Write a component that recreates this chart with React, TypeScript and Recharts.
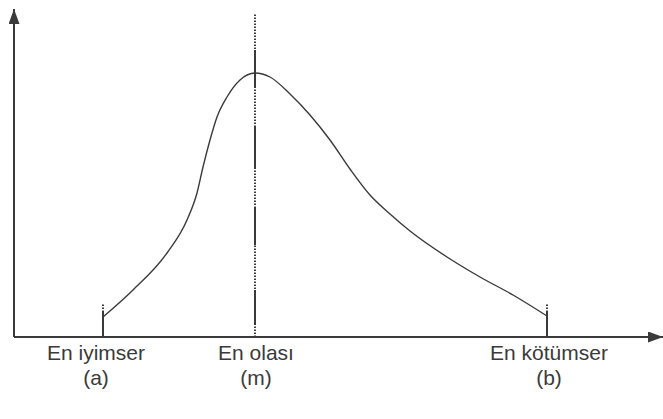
import React from "react";
import { LineChart, Line, XAxis, YAxis, ReferenceLine } from "recharts";

// curve (x, y in plot units)
const curveX = [89, 119, 153, 173, 183, 189, 196, 203, 213, 226, 241, 256, 276, 296, 316, 336, 356, 376, 396, 433, 466, 499, 533];
const curveY = [20, 47, 84, 117, 144, 170, 197, 220, 240, 257, 264, 260, 243, 222, 197, 168, 142, 123, 106, 80, 60, 42, 21];

const pointNames = ["En iyimser", "En olası", "En kötümser"];
const pointLetters = ["(a)", "(m)", "(b)"];
const pointX = [89, 241, 533];

// the "m" line is dotted with solid stretches
const mTop = 324;
const mSolidSpans = [
  [12, 47],
  [92, 129],
  [169, 210],
  [250, 287],
];
const endTickSolid = 25;
const endTickTop = 34;

const data = curveX.map((x, i) => ({ x, y: curveY[i] }));

const INK = "#3a3a3a";
const labelShift = [-7, 1, 2];

function LabelTick(props: any) {
  const { x, y, index } = props;
  const cx = x + labelShift[index];
  return (
    <g>
      <text x={cx} y={y + 23} textAnchor="middle" fontSize={21} fill={INK} fontFamily="'Liberation Sans', Arial, sans-serif">
        {pointNames[index]}
      </text>
      <text x={cx} y={y + 48} textAnchor="middle" fontSize={21} fill={INK} fontFamily="'Liberation Sans', Arial, sans-serif">
        {pointLetters[index]}
      </text>
    </g>
  );
}

export default function App() {
  return (
    <div style={{ position: "absolute", left: 0, top: 0, background: "#fff" }}>
      <LineChart width={663} height={419} data={data} margin={{ top: 9, right: 0, bottom: 0, left: 0 }}>
        <defs>
          <marker
            id="arrow"
            viewBox="0 0 15 11"
            markerWidth={15}
            markerHeight={11}
            refX={15}
            refY={5.5}
            markerUnits="userSpaceOnUse"
            orient="auto-start-reverse"
          >
            <path d="M0,0 L15,5.5 L0,11 z" fill={INK} />
          </marker>
        </defs>
        <XAxis
          dataKey="x"
          type="number"
          domain={[0, 649]}
          ticks={pointX}
          tick={<LabelTick />}
          tickLine={false}
          tickSize={0}
          tickMargin={0}
          height={82}
          interval={0}
          axisLine={{ stroke: INK, strokeWidth: 2, markerEnd: "url(#arrow)" }}
        />
        <YAxis
          type="number"
          domain={[0, 328]}
          width={14}
          tick={false}
          tickLine={false}
          axisLine={{ stroke: INK, strokeWidth: 2, markerStart: "url(#arrow)" }}
        />
        <ReferenceLine
          segment={[{ x: pointX[1], y: 0 }, { x: pointX[1], y: mTop }]}
          stroke={INK}
          strokeWidth={2}
          strokeDasharray="1.5 1.5"
        />
        {mSolidSpans.map(([a, b], i) => (
          <ReferenceLine
            key={i}
            segment={[{ x: pointX[1], y: a }, { x: pointX[1], y: b }]}
            stroke={INK}
            strokeWidth={2}
          />
        ))}
        {[pointX[0], pointX[2]].map((px) => (
          <React.Fragment key={px}>
            <ReferenceLine segment={[{ x: px, y: 0 }, { x: px, y: endTickSolid }]} stroke={INK} strokeWidth={2} />
            <ReferenceLine
              segment={[{ x: px, y: endTickSolid }, { x: px, y: endTickTop }]}
              stroke={INK}
              strokeWidth={2}
              strokeDasharray="1.5 1.5"
            />
          </React.Fragment>
        ))}
        <Line
          type="monotone"
          dataKey="y"
          stroke={INK}
          strokeWidth={1.4}
          dot={false}
          isAnimationActive={false}
        />
      </LineChart>
    </div>
  );
}
